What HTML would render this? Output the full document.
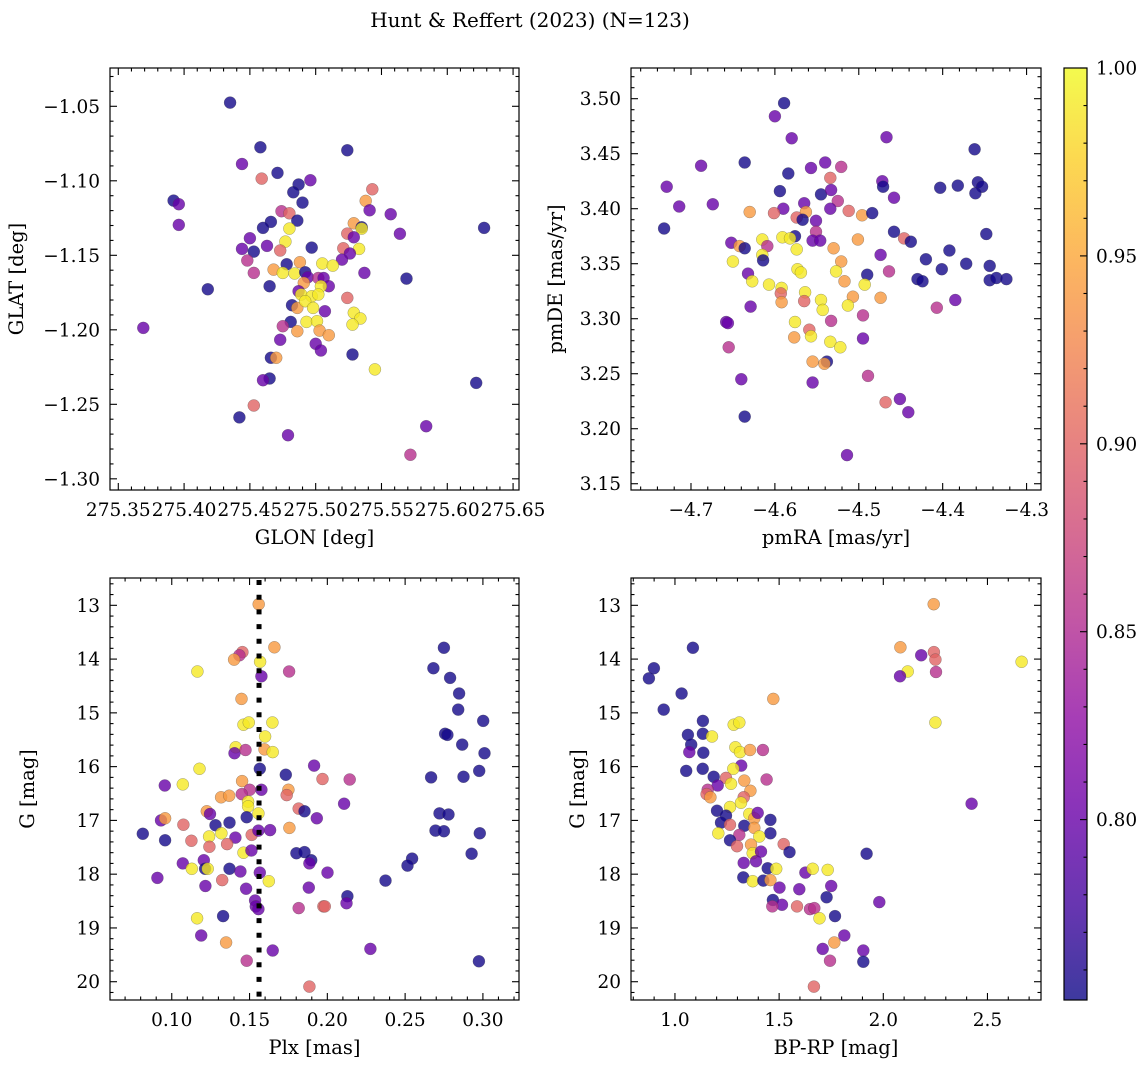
<!DOCTYPE html>
<html><head><meta charset="utf-8"><style>
html,body{margin:0;padding:0;background:#fff;}
svg{display:block;font-family:"DejaVu Serif","Liberation Serif",serif;}
</style></head><body>
<svg id="fig" width="1148" height="1067" viewBox="0 0 1148 1067" xmlns="http://www.w3.org/2000/svg">
<defs>
<linearGradient id="plasma" x1="0" y1="1" x2="0" y2="0">
<stop offset="0" stop-color="#0d0887"/><stop offset="0.1" stop-color="#41049d"/><stop offset="0.2" stop-color="#6a00a8"/><stop offset="0.3" stop-color="#8f0da4"/><stop offset="0.4" stop-color="#b12a90"/><stop offset="0.5" stop-color="#cc4778"/><stop offset="0.6" stop-color="#e16462"/><stop offset="0.7" stop-color="#f2844b"/><stop offset="0.8" stop-color="#fca636"/><stop offset="0.9" stop-color="#fcce25"/><stop offset="1" stop-color="#f0f921"/>
</linearGradient>
</defs>
<text x="530" y="27" font-size="20" text-anchor="middle">Hunt &amp; Reffert (2023) (N=123)</text>
</svg>
<script>
// ---- Panel 1: GLON vs GLAT ----
const glon1=[275.435,275.458,275.524,275.444,275.459,275.471,275.496,275.487,275.483,275.543,275.538,275.392,275.396,275.490,275.541,275.557,275.474,275.480,275.486,275.466,275.460,275.480,275.529,275.535,275.535,275.396,275.564,275.524,275.529,275.477,275.450,275.463,275.444,275.453,275.473,275.497,275.521,275.533,275.526,275.520,275.448,275.488,275.505,275.513,275.478,275.468,275.475,275.484,275.492,275.453,275.537,275.569,275.628,275.494,275.502,275.506,275.491,275.465,275.510,275.504,275.487,275.489,275.497,275.502,275.418,275.524,275.482,275.486,275.492,275.498,275.507,275.529,275.534,275.528,275.493,275.501,275.481,275.475,275.486,275.503,275.510,275.369,275.473,275.500,275.504,275.528,275.466,275.470,275.545,275.465,275.460,275.622,275.453,275.442,275.584,275.479,275.572];
const glat1=[-1.0475,-1.0775,-1.0795,-1.0887,-1.0985,-1.0947,-1.0996,-1.1025,-1.1077,-1.1057,-1.1135,-1.1133,-1.1157,-1.1146,-1.1198,-1.1224,-1.1204,-1.1218,-1.1267,-1.1276,-1.1316,-1.1321,-1.1285,-1.1312,-1.1321,-1.1296,-1.1356,-1.1354,-1.1379,-1.1408,-1.1385,-1.1437,-1.1457,-1.1475,-1.1468,-1.1448,-1.1453,-1.1457,-1.1488,-1.1529,-1.1535,-1.1546,-1.1555,-1.1569,-1.1560,-1.1596,-1.1618,-1.1622,-1.1614,-1.1618,-1.1618,-1.1656,-1.1316,-1.1647,-1.1652,-1.1652,-1.1685,-1.1707,-1.1707,-1.1707,-1.1741,-1.1763,-1.1775,-1.1763,-1.1728,-1.1786,-1.1835,-1.1853,-1.1808,-1.1853,-1.1875,-1.1886,-1.1924,-1.1965,-1.1947,-1.1942,-1.1947,-1.1976,-1.2009,-1.2005,-1.2036,-1.1987,-1.2067,-1.2094,-1.2139,-1.2166,-1.2188,-1.2188,-1.2266,-1.2327,-1.2338,-1.2356,-1.2508,-1.2588,-1.2647,-1.2707,-1.2839];
const prob1=[0.755,0.755,0.755,0.80,0.90,0.755,0.80,0.755,0.755,0.90, 0.94,0.755,0.80,0.755,0.80,0.80,0.855,0.90,0.755,0.755, 0.755,0.99,0.94,0.755,0.99,0.80,0.80,0.90,0.80,0.99, 0.80,0.80,0.80,0.755,0.90,0.755,0.90,0.99,0.80,0.80, 0.855,0.94,0.99,0.99,0.755,0.94,0.99,0.99,0.755,0.855, 0.80,0.755,0.755,0.80,0.855,0.80,0.94,0.755,0.80,0.99, 0.80,0.99,0.99,0.99,0.755,0.90,0.755,0.94,0.99,0.99, 0.80,0.99,0.99,0.99,0.99,0.99,0.755,0.855,0.94,0.94, 0.94,0.80,0.80,0.80,0.80,0.755,0.755,0.94,0.99,0.755, 0.80,0.755,0.90,0.755,0.80,0.80,0.855];
// ---- Panel 2: pmRA vs pmDE ----
const pmra2=[-4.589,-4.600,-4.580,-4.467,-4.362,-4.688,-4.636,-4.540,-4.557,-4.521,-4.584,-4.534,-4.729,-4.472,-4.471,-4.403,-4.382,-4.358,-4.353,-4.361,-4.594,-4.545,-4.533,-4.458,-4.714,-4.674,-4.565,-4.525,-4.590,-4.534,-4.630,-4.601,-4.512,-4.496,-4.484,-4.563,-4.574,-4.567,-4.551,-4.732,-4.551,-4.458,-4.348,-4.446,-4.438,-4.576,-4.591,-4.582,-4.555,-4.546,-4.501,-4.615,-4.652,-4.642,-4.636,-4.609,-4.574,-4.530,-4.615,-4.614,-4.650,-4.474,-4.392,-4.420,-4.521,-4.372,-4.344,-4.573,-4.569,-4.527,-4.464,-4.401,-4.490,-4.632,-4.430,-4.424,-4.344,-4.336,-4.324,-4.627,-4.517,-4.607,-4.592,-4.593,-4.564,-4.493,-4.592,-4.565,-4.545,-4.543,-4.507,-4.474,-4.513,-4.629,-4.385,-4.407,-4.495,-4.533,-4.658,-4.656,-4.576,-4.559,-4.557,-4.577,-4.495,-4.534,-4.522,-4.655,-4.538,-4.555,-4.541,-4.489,-4.640,-4.555,-4.451,-4.468,-4.441,-4.636,-4.514];
const pmde2=[3.496,3.484,3.464,3.465,3.454,3.439,3.442,3.442,3.437,3.438,3.432,3.428,3.420,3.425,3.420,3.419,3.421,3.424,3.420,3.414,3.416,3.413,3.417,3.410,3.402,3.404,3.405,3.407,3.400,3.400,3.397,3.396,3.398,3.394,3.396,3.397,3.392,3.390,3.389,3.382,3.379,3.379,3.377,3.373,3.370,3.375,3.374,3.373,3.371,3.371,3.372,3.372,3.369,3.366,3.364,3.366,3.363,3.364,3.358,3.353,3.352,3.358,3.362,3.354,3.352,3.350,3.348,3.345,3.342,3.343,3.343,3.345,3.340,3.341,3.336,3.334,3.335,3.337,3.336,3.334,3.334,3.331,3.328,3.323,3.324,3.331,3.315,3.316,3.317,3.308,3.320,3.319,3.312,3.311,3.317,3.310,3.303,3.298,3.297,3.296,3.297,3.290,3.284,3.283,3.282,3.279,3.274,3.274,3.261,3.261,3.259,3.248,3.245,3.242,3.227,3.224,3.215,3.211,3.176];
const prob2=[0.755,0.80,0.80,0.80,0.755,0.80,0.755,0.80,0.80,0.855, 0.755,0.90,0.80,0.80,0.755,0.755,0.755,0.755,0.755,0.755, 0.755,0.755,0.80,0.80,0.80,0.80,0.80,0.855,0.80,0.80, 0.94,0.90,0.90,0.94,0.755,0.94,0.90,0.755,0.80,0.755, 0.855,0.755,0.755,0.90,0.755,0.755,0.99,0.99,0.80,0.80, 0.94,0.99,0.80,0.94,0.755,0.855,0.99,0.94,0.99,0.755, 0.99,0.80,0.755,0.755,0.94,0.755,0.755,0.99,0.99,0.99, 0.855,0.755,0.755,0.80,0.755,0.755,0.755,0.755,0.755,0.99, 0.94,0.99,0.99,0.90,0.99,0.99,0.94,0.90,0.99,0.99, 0.94,0.94,0.99,0.80,0.80,0.855,0.855,0.855,0.80,0.80, 0.99,0.90,0.99,0.94,0.80,0.99,0.99,0.855,0.755,0.94, 0.94,0.855,0.80,0.80,0.80,0.90,0.80,0.755,0.80];
// ---- Panel 3: Plx vs G ----
const plx3=[0.1559,0.1660,0.1454,0.1435,0.1401,0.1568,0.1165,0.1576,0.1754,0.1448,0.1461,0.1495,0.1647,0.1600,0.1411,0.1403,0.1474,0.1596,0.1649,0.2749,0.2682,0.2789,0.2847,0.2841,0.3002,0.2757,0.2772,0.2867,0.3010,0.2976,0.2667,0.2875,0.2721,0.2779,0.2695,0.2749,0.2980,0.2927,0.2545,0.2515,0.2374,0.1178,0.1566,0.1733,0.1915,0.1969,0.2144,0.0955,0.1071,0.1452,0.1576,0.1501,0.1450,0.1750,0.1739,0.1317,0.1369,0.1491,0.1491,0.1816,0.1853,0.2108,0.1932,0.1225,0.1246,0.0931,0.0957,0.1075,0.1281,0.1371,0.1482,0.1557,0.0814,0.0957,0.1126,0.1240,0.1319,0.1409,0.1514,0.1557,0.1632,0.1756,0.1242,0.1356,0.1461,0.1512,0.1801,0.1853,0.1896,0.1885,0.1071,0.1206,0.1214,0.1231,0.1129,0.1371,0.1441,0.1566,0.2001,0.0908,0.1324,0.1624,0.1216,0.1478,0.1881,0.2129,0.2123,0.1536,0.1540,0.1557,0.1816,0.1975,0.1984,0.1330,0.1163,0.1189,0.1349,0.1649,0.1482,0.2277,0.2974,0.1885];
const g3=[12.98,13.78,13.87,13.93,14.01,14.05,14.23,14.32,14.23,14.74,15.22,15.18,15.18,15.44,15.64,15.75,15.69,15.68,15.73,13.79,14.17,14.35,14.64,14.94,15.15,15.39,15.41,15.59,15.75,16.08,16.20,16.19,16.87,16.89,17.19,17.20,17.24,17.62,17.71,17.84,18.12,16.04,16.04,16.15,15.98,16.23,16.24,16.35,16.33,16.27,16.43,16.43,16.51,16.43,16.53,16.57,16.54,16.65,16.74,16.78,16.83,16.69,16.96,16.83,16.88,17.00,16.96,17.08,17.09,17.04,16.94,16.87,17.25,17.37,17.38,17.30,17.24,17.32,17.27,17.19,17.18,17.14,17.49,17.44,17.60,17.56,17.61,17.59,17.74,17.80,17.80,17.74,17.90,17.90,17.90,17.90,17.95,17.97,17.97,18.07,18.11,18.13,18.22,18.27,18.25,18.41,18.54,18.49,18.60,18.65,18.63,18.60,18.60,18.78,18.82,19.14,19.27,19.42,19.61,19.39,19.62,20.09];
const prob3=[0.94,0.94,0.90,0.855,0.94,0.99,0.99,0.80,0.855,0.94, 0.99,0.99,0.99,0.99,0.99,0.80,0.855,0.94,0.99,0.755, 0.755,0.755,0.755,0.755,0.755,0.755,0.755,0.755,0.755,0.755, 0.755,0.755,0.755,0.755,0.755,0.755,0.755,0.755,0.755,0.755, 0.755,0.99,0.755,0.755,0.80,0.90,0.855,0.80,0.99,0.94, 0.80,0.855,0.855,0.94,0.90,0.94,0.94,0.99,0.99,0.90, 0.755,0.80,0.80,0.94,0.80,0.80,0.94,0.90,0.755,0.755, 0.755,0.99,0.755,0.755,0.90,0.99,0.99,0.80,0.90,0.80, 0.80,0.94,0.90,0.90,0.99,0.80,0.755,0.755,0.755,0.80, 0.80,0.80,0.755,0.99,0.99,0.755,0.80,0.80,0.80,0.80, 0.90,0.99,0.80,0.80,0.80,0.755,0.80,0.80,0.80,0.80, 0.855,0.90,0.90,0.755,0.99,0.80,0.94,0.80,0.855,0.80, 0.755,0.90];
const plxRef=[0.1561];
// ---- Panel 4: BP-RP vs G ----
const bprp4=[2.242,2.082,2.243,2.182,2.250,2.664,2.117,2.253,2.080,1.472,2.250,2.424,1.086,0.899,0.875,1.032,0.946,1.134,1.282,1.309,1.062,1.134,1.178,1.078,1.069,1.136,1.290,1.312,1.360,1.422,1.054,1.133,1.318,1.280,1.186,1.245,1.269,1.333,1.440,1.205,1.157,1.152,1.170,1.362,1.330,1.264,1.317,1.202,1.245,1.357,1.381,1.397,1.458,1.221,1.264,1.333,1.381,1.458,1.208,1.309,1.405,1.264,1.298,1.365,1.522,1.550,1.373,1.413,1.330,1.389,1.445,1.486,1.626,1.661,1.733,1.328,1.373,1.424,1.458,1.502,1.597,1.750,1.728,1.470,1.514,1.467,1.586,1.648,1.669,1.694,1.768,1.981,1.920,1.813,1.765,1.709,1.904,1.744,1.904,1.667];
const g4=[12.98,13.78,13.87,13.93,14.01,14.05,14.23,14.24,14.32,14.74,15.18,16.69,13.79,14.17,14.36,14.64,14.94,15.15,15.22,15.18,15.41,15.39,15.44,15.59,15.73,15.74,15.64,15.73,15.69,15.69,16.08,16.04,15.98,16.04,16.19,16.21,16.32,16.26,16.24,16.35,16.43,16.51,16.57,16.45,16.57,16.75,16.67,16.82,16.91,16.88,16.96,16.86,16.99,17.04,17.08,17.10,17.14,17.24,17.24,17.27,17.30,17.37,17.48,17.45,17.44,17.59,17.61,17.58,17.79,17.76,17.89,17.90,17.97,17.90,17.92,18.06,18.13,18.12,18.11,18.25,18.28,18.22,18.43,18.48,18.57,18.60,18.60,18.65,18.63,18.82,18.78,18.52,17.62,19.14,19.27,19.39,19.42,19.61,19.63,20.09];
const prob4=[0.94,0.94,0.90,0.80,0.90,0.99,0.99,0.855,0.80,0.94, 0.99,0.80,0.755,0.755,0.755,0.755,0.755,0.755,0.99,0.99, 0.755,0.755,0.99,0.755,0.80,0.755,0.99,0.99,0.94,0.855, 0.755,0.755,0.80,0.99,0.755,0.90,0.99,0.94,0.855,0.80, 0.855,0.90,0.94,0.94,0.90,0.99,0.99,0.755,0.755,0.99, 0.94,0.80,0.755,0.755,0.90,0.755,0.94,0.755,0.99,0.855, 0.99,0.755,0.90,0.94,0.90,0.755,0.99,0.80,0.80,0.80, 0.755,0.99,0.80,0.99,0.99,0.755,0.99,0.755,0.94,0.80, 0.80,0.80,0.755,0.755,0.80,0.855,0.90,0.855,0.855,0.99, 0.755,0.80,0.755,0.80,0.94,0.80,0.80,0.855,0.755,0.90];
// ---- Tick labels ----
const p1xTicks=[275.35,275.40,275.45,275.50,275.55,275.60,275.65];
const p1xLabels=["275.35","275.40","275.45","275.50","275.55","275.60","275.65"];
const p1yTicks=[-1.05,-1.10,-1.15,-1.20,-1.25,-1.30];
const p1yLabels=["\u22121.05","\u22121.10","\u22121.15","\u22121.20","\u22121.25","\u22121.30"];
const p2xTicks=[-4.7,-4.6,-4.5,-4.4,-4.3];
const p2xLabels=["\u22124.7","\u22124.6","\u22124.5","\u22124.4","\u22124.3"];
const p2yTicks=[3.15,3.20,3.25,3.30,3.35,3.40,3.45,3.50];
const p2yLabels=["3.15","3.20","3.25","3.30","3.35","3.40","3.45","3.50"];
const p3xTicks=[0.10,0.15,0.20,0.25,0.30];
const p3xLabels=["0.10","0.15","0.20","0.25","0.30"];
const gTicks=[13,14,15,16,17,18,19,20];
const gLabels=["13","14","15","16","17","18","19","20"];
const p4xTicks=[1.0,1.5,2.0,2.5];
const p4xLabels=["1.0","1.5","2.0","2.5"];
const cbTicks=[0.80,0.85,0.90,0.95,1.00];
const cbLabels=["0.80","0.85","0.90","0.95","1.00"];
const cbRange=[0.752,1.0];

const NS="http://www.w3.org/2000/svg";
const svg=document.getElementById('fig');
const TF=18.5, LF=19.5;
function mk(tag,attrs,parent){const e=document.createElementNS(NS,tag);for(const k in attrs)e.setAttribute(k,attrs[k]);(parent||svg).appendChild(e);return e;}
const stops=[[13,8,135],[65,4,157],[106,0,168],[143,13,164],[177,42,144],[204,71,120],[225,100,98],[242,132,75],[252,166,54],[252,206,37],[240,249,33]];
function plasma(p){let t=(p-cbRange[0])/(cbRange[1]-cbRange[0]);t=Math.max(0,Math.min(1,t));const f=t*10;const i=Math.min(9,Math.floor(f));const r=f-i;const a=stops[i],b=stops[i+1];return 'rgb('+[0,1,2].map(k=>Math.round(a[k]+(b[k]-a[k])*r)).join(',')+')';}

function panel(cfg){
  const g=mk('g',{});
  
  
  const {x0,y0,x1,y1}=cfg;
  const sx=v=>x0+(v-cfg.xd[0])/(cfg.xd[1]-cfg.xd[0])*(x1-x0);
  const sy=v=>y0+(v-cfg.yd[0])/(cfg.yd[1]-cfg.yd[0])*(y1-y0);
  const pts=mk('g',{},g);
  
  
  for(let i=0;i<cfg.xs.length;i++){
    const c=mk('circle',{cx:sx(cfg.xs[i]).toFixed(1),cy:sy(cfg.ys[i]).toFixed(1),r:6,fill:plasma(cfg.c[i]),'fill-opacity':0.8,stroke:'#444','stroke-opacity':0.5,'stroke-width':0.5},pts);
    
    
  }
  if(cfg.extra)cfg.extra(g,sx,sy);
  const frame=mk('rect',{x:x0,y:y0,width:x1-x0,height:y1-y0,fill:'none',stroke:'#000','stroke-width':1.2},g);
  
  
  const tk=mk('g',{stroke:'#000','stroke-width':1.1},g);
  
  
  const lo=Math.min(...cfg.xd),hi=Math.max(...cfg.xd);
  for(let k=Math.ceil(lo/cfg.xm-1e-6);k*cfg.xm<=hi+1e-9;k++){const v=k*cfg.xm;const X=sx(v);
    const major=cfg.xt.some(t=>Math.abs(t-v)<cfg.xm*0.1);const L=major?7:3.5;
    mk('line',{x1:X,y1:y1,x2:X,y2:y1-L},tk);mk('line',{x1:X,y1:y0,x2:X,y2:y0+L},tk);}
  const ylo=Math.min(...cfg.yd),yhi=Math.max(...cfg.yd);
  for(let k=Math.ceil(ylo/cfg.ym-1e-6);k*cfg.ym<=yhi+1e-9;k++){const v=k*cfg.ym;const Y=sy(v);
    const major=cfg.yt.some(t=>Math.abs(t-v)<cfg.ym*0.1);const L=major?7:3.5;
    mk('line',{x1:x0,y1:Y,x2:x0+L,y2:Y},tk);mk('line',{x1:x1,y1:Y,x2:x1-L,y2:Y},tk);}
  cfg.xt.forEach((v,i)=>{const t=mk('text',{x:sx(v),y:y1+26,'font-size':TF,'text-anchor':'middle'},g);t.textContent=cfg.xl[i];
    
    });
  cfg.yt.forEach((v,i)=>{const t=mk('text',{x:x0-10,y:sy(v)+6.5,'font-size':TF,'text-anchor':'end'},g);t.textContent=cfg.yl[i];
    
    });
  const xt=mk('text',{x:(x0+x1)/2,y:y1+54,'font-size':LF,'text-anchor':'middle'},g);xt.textContent=cfg.xlabel;
  
  
  const yx=cfg.ylx,yy=(y0+y1)/2;
  const yt=mk('text',{x:yx,y:yy,'font-size':LF,'text-anchor':'middle',transform:'rotate(-90 '+yx+' '+yy+')'},g);yt.textContent=cfg.ylabel;
  
  
}

panel({name:'glon-glat-panel',x0:110,y0:68,x1:519,y1:490,xd:[275.3437,275.6545],yd:[-1.0243,-1.3075],xs:glon1,ys:glat1,c:prob1,xt:p1xTicks,xl:p1xLabels,xm:0.01,yt:p1yTicks,yl:p1yLabels,ym:0.01,xlabel:'GLON [deg]',ylabel:'GLAT [deg]',ylx:23});
panel({name:'pm-panel',x0:631,y0:68,x1:1041,y1:490,xd:[-4.7715,-4.2828],yd:[3.5279,3.1443],xs:pmra2,ys:pmde2,c:prob2,xt:p2xTicks,xl:p2xLabels,xm:0.02,yt:p2yTicks,yl:p2yLabels,ym:0.01,xlabel:'pmRA [mas/yr]',ylabel:'pmDE [mas/yr]',ylx:562});
panel({name:'plx-g-panel',x0:110,y0:578,x1:519,y1:1000,xd:[0.0603,0.3232],yd:[12.492,20.34],xs:plx3,ys:g3,c:prob3,xt:p3xTicks,xl:p3xLabels,xm:0.01,yt:gTicks,yl:gLabels,ym:0.2,xlabel:'Plx [mas]',ylabel:'G [mag]',ylx:34,
  extra:(g,sx,sy)=>{const l=mk('line',{x1:sx(plxRef[0]),y1:580,x2:sx(plxRef[0]),y2:1000,stroke:'#000','stroke-width':5,'stroke-dasharray':'5 9.7'},g);
    
    }});
panel({name:'cmd-panel',x0:631,y0:578,x1:1041,y1:1000,xd:[0.789,2.757],yd:[12.492,20.34],xs:bprp4,ys:g4,c:prob4,xt:p4xTicks,xl:p4xLabels,xm:0.1,yt:gTicks,yl:gLabels,ym:0.2,xlabel:'BP-RP [mag]',ylabel:'G [mag]',ylx:584});

// colorbar
const cb=mk('g',{});


const cy0=68,cy1=1000,cx0=1064,cx1=1087;
const csy=v=>cy1-(v-cbRange[0])/(cbRange[1]-cbRange[0])*(cy1-cy0);
mk('rect',{x:cx0,y:cy0,width:cx1-cx0,height:cy1-cy0,fill:'url(#plasma)','fill-opacity':0.8},cb);
mk('rect',{x:cx0,y:cy0,width:cx1-cx0,height:cy1-cy0,fill:'none',stroke:'#000','stroke-width':1.2},cb);
for(let k=76;k<=100;k++){const v=k/100;const Y=csy(v);const major=cbTicks.some(t=>Math.abs(t-v)<0.001);
  mk('line',{x1:cx1,y1:Y,x2:cx1-(major?7:3.5),y2:Y,stroke:'#000','stroke-width':1.1},cb);}
cbTicks.forEach((v,i)=>{const t=mk('text',{x:1096,y:csy(v)+6.5,'font-size':TF},cb);t.textContent=cbLabels[i];
  
  });
</script>
</body></html>
